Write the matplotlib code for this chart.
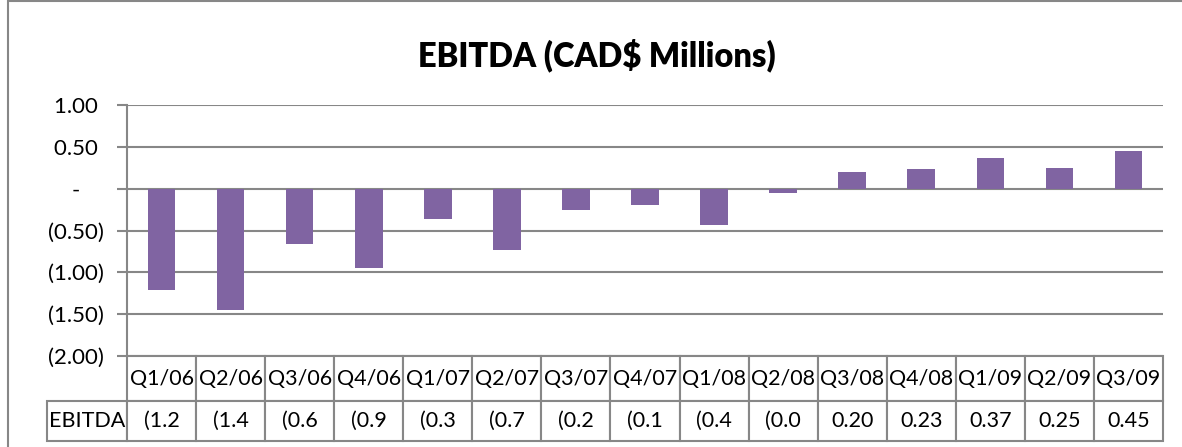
import matplotlib.pyplot as plt
from matplotlib.patches import Rectangle

plt.rcParams['font.family'] = ['Lato', 'DejaVu Sans']

quarters = ['Q1/06', 'Q2/06', 'Q3/06', 'Q4/06', 'Q1/07', 'Q2/07', 'Q3/07', 'Q4/07',
            'Q1/08', 'Q2/08', 'Q3/08', 'Q4/08', 'Q1/09', 'Q2/09', 'Q3/09']
ebitda = [-1.21, -1.45, -0.66, -0.95, -0.36, -0.73, -0.25, -0.19,
          -0.43, -0.05, 0.20, 0.23, 0.37, 0.25, 0.45]
yticks = [1.0, 0.5, 0.0, -0.5, -1.0, -1.5, -2.0]
ytick_labels = ['1.00 ', '0.50 ', '-    ', '(0.50)', '(1.00)', '(1.50)', '(2.00)']


def acct(v):
    # excel accounting format, cut off like the narrow table cells
    s = '(%.2f)' % abs(v) if v < 0 else '%.2f' % v
    return s[:4]


purple = '#8064A2'
grey = '#878787'

W, H = 1182, 447
fig = plt.figure(figsize=(W / 100, H / 100), dpi=100)
ax = fig.add_axes([127 / W, 91 / H, 1036 / W, 251 / H])

x = list(range(len(quarters)))
ax.bar(x, ebitda, width=0.4, color=purple, zorder=3)
ax.set_xlim(-0.5, len(quarters) - 0.5)
ax.set_ylim(-2, 1)
ax.set_yticks(yticks)
ax.set_yticklabels(ytick_labels, fontsize=16)
ax.set_xticks([])
ax.grid(axis='y', color=grey, linewidth=1.5, zorder=0)
ax.tick_params(axis='y', length=7, width=1.5, color=grey, pad=10)
for s in ['top', 'right', 'bottom']:
    ax.spines[s].set_visible(False)
ax.spines['left'].set_color(grey)
ax.spines['left'].set_linewidth(1.5)

# data table under the plot
cells = [[''] + quarters, ['EBITDA'] + [acct(v) for v in ebitda]]
lab_w = 80 / 1036
tab = ax.table(cellText=cells, cellLoc='center',
               colWidths=[80] + [69.07] * len(quarters),
               bbox=[-lab_w, -85 / 251, 1 + lab_w, 85 / 251])
tab.auto_set_font_size(False)
tab.set_fontsize(15.5)
for (r, c), cell in tab.get_celld().items():
    cell.set_edgecolor(grey)
    cell.set_linewidth(1.5)
    cell.set_height(45 if r == 0 else 40)
    cell.PAD = 0.02
tab[0, 0].visible_edges = ''

fig.text(0.5046, 1 - 55 / H, 'EBITDA (CAD$ Millions)', ha='center', va='center',
         fontsize=23.5, fontweight='heavy')

fig.patches.append(Rectangle((8 / W, -0.1), 1.2, 1.1 - 1 / H, transform=fig.transFigure,
                             fill=False, edgecolor=grey, linewidth=1.5))

fig.savefig('out.png', dpi=100)
